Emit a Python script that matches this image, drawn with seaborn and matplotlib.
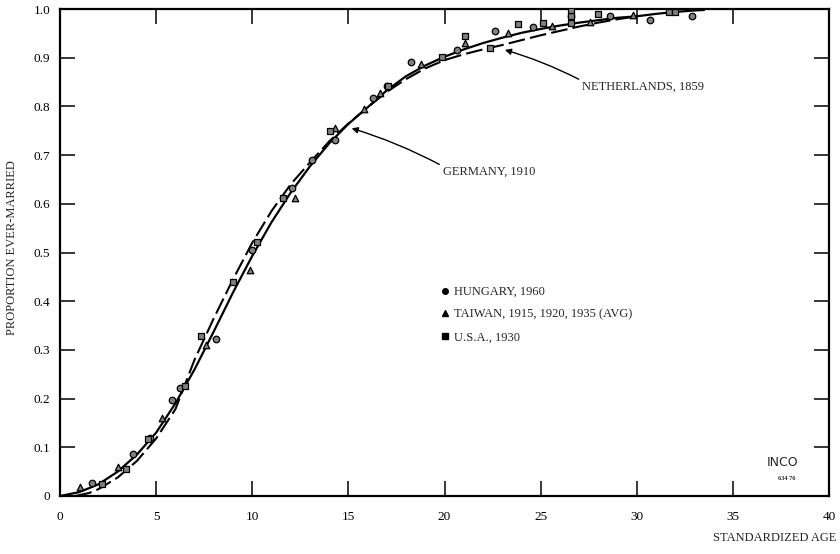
import matplotlib
matplotlib.use("Agg")
import matplotlib.pyplot as plt
from matplotlib.lines import Line2D
import pandas as pd
import seaborn as sns

# Standard nuptiality curves: proportion ever-married by standardized age
germany_age = [0, 1, 2, 3, 4, 5, 6, 7, 8, 9, 10, 11, 12, 13, 14, 15, 16, 17,
               18, 19, 20, 21, 22, 23, 24, 25, 26, 27, 28, 29, 30, 31, 32, 33, 33.5]
germany_1910 = [0, 0.008, 0.024, 0.05, 0.085, 0.13, 0.19, 0.26, 0.338, 0.418,
                0.493, 0.562, 0.623, 0.677, 0.724, 0.764, 0.798, 0.833, 0.862,
                0.884, 0.902, 0.917, 0.93, 0.941, 0.951, 0.959, 0.966, 0.972,
                0.977, 0.982, 0.985, 0.99, 0.994, 0.997, 0.998]

netherlands_age = [0.8, 1.5, 2, 3, 4, 5, 6, 7, 8, 9, 10, 11, 12, 13, 14, 15, 16,
                   17, 18, 19, 20, 21, 22, 23, 24, 25, 26, 27, 28, 29, 30]
netherlands_1859 = [0, 0.006, 0.014, 0.038, 0.072, 0.118, 0.178, 0.28, 0.365,
                    0.445, 0.52, 0.585, 0.64, 0.685, 0.728, 0.765, 0.798, 0.83,
                    0.856, 0.878, 0.895, 0.907, 0.917, 0.926, 0.936, 0.946,
                    0.955, 0.964, 0.972, 0.979, 0.985]

# Observed populations
hungary_age = [1.65, 3.81, 4.68, 5.84, 6.24, 8.1, 9.97, 12.05, 13.09, 14.3,
               16.29, 17.02, 18.24, 20.63, 22.62, 24.58, 26.6, 28.6, 30.7, 32.85]
hungary_1960 = [0.027, 0.086, 0.12, 0.197, 0.221, 0.322, 0.505, 0.633, 0.69,
                0.731, 0.817, 0.842, 0.892, 0.916, 0.955, 0.964, 0.985, 0.986,
                0.977, 0.985]

taiwan_age = [1.04, 3.03, 5.32, 7.6, 9.88, 12.22, 14.3, 15.81, 16.64, 18.8,
              21.06, 23.31, 25.57, 27.56, 29.8]
taiwan_avg = [0.018, 0.06, 0.16, 0.31, 0.464, 0.611, 0.755, 0.794, 0.827,
              0.887, 0.93, 0.95, 0.965, 0.974, 0.988]

usa_age = [2.17, 3.41, 4.6, 6.5, 7.32, 9.01, 10.23, 11.61, 14.04, 17.07,
           19.85, 21.06, 22.36, 23.83, 25.1, 26.6, 26.6, 26.6, 27.99, 31.7, 32.0]
usa_1930 = [0.024, 0.055, 0.118, 0.225, 0.329, 0.44, 0.522, 0.611, 0.75,
            0.842, 0.902, 0.945, 0.919, 0.97, 0.972, 0.972, 0.985, 0.998,
            0.99, 0.994, 0.994]

x_ticks = [0, 5, 10, 15, 20, 25, 30, 35, 40]
y_ticks = [0, 0.1, 0.2, 0.3, 0.4, 0.5, 0.6, 0.7, 0.8, 0.9, 1.0]
y_tick_labels = ["0", "0.1", "0.2", "0.3", "0.4", "0.5", "0.6", "0.7", "0.8", "0.9", "1.0"]

legend_labels = ["HUNGARY, 1960", "TAIWAN, 1915, 1920, 1935 (AVG)", "U.S.A., 1930"]

sns.set_theme(style="ticks")
plt.rcParams["font.family"] = ["Liberation Serif", "DejaVu Serif"]
plt.rcParams["font.size"] = 9

fig = plt.figure(figsize=(8.4, 5.54), dpi=100)
ax = fig.add_axes([60 / 840, 1 - 496 / 554, 769 / 840, 487 / 554])

germany = pd.DataFrame({"age": germany_age, "prop": germany_1910})
netherlands = pd.DataFrame({"age": netherlands_age, "prop": netherlands_1859})

sns.lineplot(data=germany, x="age", y="prop", ax=ax, color="black",
             linewidth=1.6, sort=False, zorder=2)
sns.lineplot(data=netherlands, x="age", y="prop", ax=ax, color="black",
             linewidth=1.5, sort=False, linestyle=(0, (8, 2.5)), zorder=2)

marker_style = dict(ax=ax, s=22, color="0.5", edgecolor="black",
                    linewidth=0.9, zorder=3, legend=False)
sns.scatterplot(x=hungary_age, y=hungary_1960, marker="o", **marker_style)
sns.scatterplot(x=taiwan_age, y=taiwan_avg, marker="^", **marker_style)
sns.scatterplot(x=usa_age, y=usa_1930, marker="s", **marker_style)

ax.set_xlim(0, 40)
ax.set_ylim(0, 1.0)
ax.set_xticks(x_ticks)
ax.set_yticks(y_ticks)
ax.set_yticklabels(y_tick_labels)

for side in ["left", "right", "top", "bottom"]:
    ax.spines[side].set_linewidth(1.6)
    ax.spines[side].set_color("black")
ax.tick_params(axis="both", direction="in", length=11, width=1.1,
               colors="black", labelsize=9.5, top=True, right=True)
ax.tick_params(axis="x", pad=11)
ax.tick_params(axis="y", pad=7)

ax.set_xlabel("STANDARDIZED AGE", fontsize=9, loc="right")
ax.xaxis.set_label_coords(1.009, -0.074)
ax.set_ylabel("PROPORTION EVER-MARRIED", fontsize=9)
ax.yaxis.set_label_coords(-0.055, 0.51)

arrow = dict(arrowstyle="-|>", color="black", lw=1.0, mutation_scale=9,
             shrinkA=0, shrinkB=0, relpos=(0, 1))
ax.annotate("NETHERLANDS, 1859", xy=(23.14, 0.916), xytext=(27.15, 0.84),
            fontsize=9, va="center", ha="left",
            arrowprops=dict(connectionstyle="arc3,rad=0.05", **arrow))
ax.annotate("GERMANY, 1910", xy=(15.17, 0.755), xytext=(19.9, 0.665),
            fontsize=9, va="center", ha="left",
            arrowprops=dict(connectionstyle="arc3,rad=0.05", **arrow))

handles = [Line2D([], [], marker=m, color="black", linestyle="none", markersize=4)
           for m in ["o", "^", "s"]]
ax.legend(handles, legend_labels, loc="upper left", frameon=False,
          bbox_to_anchor=(441 / 840, 1 - 286 / 554), bbox_transform=fig.transFigure,
          fontsize=9, handlelength=0.6, handletextpad=0.45, labelspacing=0.85,
          borderpad=0, borderaxespad=0)

fig.text(783 / 840, 1 - 463 / 554, "INCO", fontsize=9,
         ha="center", va="center", family="Liberation Sans Narrow")
fig.text(787 / 840, 1 - 479 / 554, "634 76", fontsize=4.5, fontweight="bold",
         ha="center", va="center")

fig.savefig("out.png", dpi=100)
